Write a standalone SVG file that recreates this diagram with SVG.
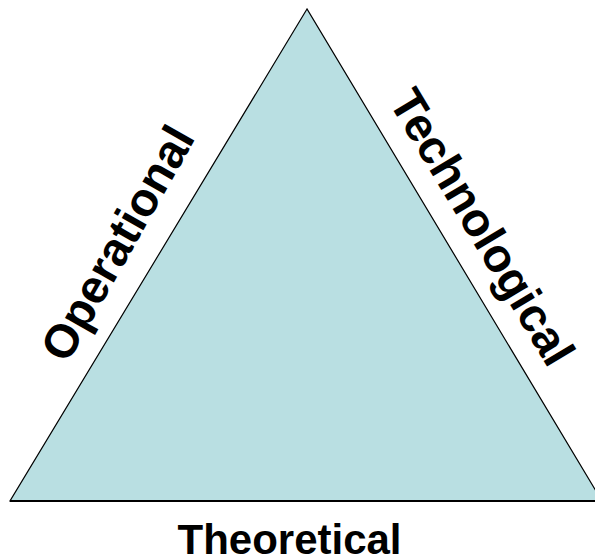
<svg xmlns="http://www.w3.org/2000/svg" width="595" height="559" viewBox="0 0 595 559">
<style>
.lbl{font-family:"Liberation Sans",Arial,sans-serif;font-weight:bold;font-size:47px;fill:#000}
</style>
<rect width="595" height="559" fill="#fff"/>
<g id="triangle">
<polygon points="307,9 10,501 602,501" fill="#B9DFE2" stroke="#000" stroke-width="1.2"/>
<line x1="10" y1="501" x2="595" y2="501" stroke="#000" stroke-width="2"/>
</g>
<g id="operational"><text class="lbl" transform="translate(67,364.8) rotate(-60.4)">Operational</text></g>
<g id="technological"><text class="lbl" transform="translate(388.1,101.5) rotate(59.05)">Technological</text></g>
<g id="theoretical"><text class="lbl" style="font-size:43px" x="177.5" y="554" textLength="224" lengthAdjust="spacingAndGlyphs">Theoretical</text></g>
</svg>
